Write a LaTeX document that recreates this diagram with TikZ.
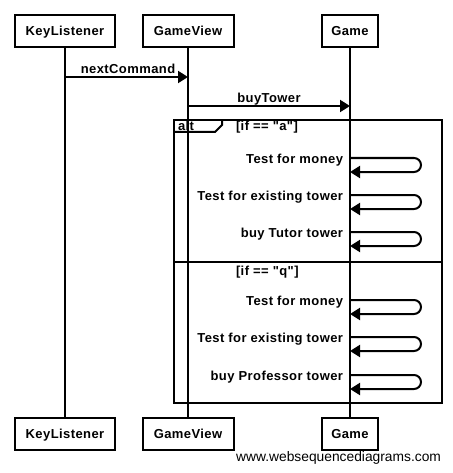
\documentclass[tikz,border=0pt]{standalone}
\usepackage{fontspec}
\newfontfamily\arialf{Liberation Sans}
\newfontfamily\arialbf{Liberation Sans Bold}[LetterSpace=3.2]
\usetikzlibrary{arrows.meta}
\begin{document}
\begin{tikzpicture}[x=1pt,y=-1pt,line width=2pt,
  actor/.style={draw,fill=white,font=\arialbf\fontsize{13}{15}\selectfont,minimum height=32pt,inner sep=0pt,text height=9.2pt,text depth=0pt},
  lbl/.style={font=\arialbf\fontsize{13}{15}\selectfont,inner sep=0pt},
  msg/.style={-{Triangle[length=10pt,width=12pt]}},
  selfmsg/.style={msg,rounded corners=7pt}]
\useasboundingbox (0,0) rectangle (452,473);
% actors
\node[actor,minimum width=100pt] (klt) at (65,31) {KeyListener};
\node[actor,minimum width=91pt] (gvt) at (188,31) {GameView};
\node[actor,minimum width=56pt] (gt) at (350,31) {Game};
\node[actor,minimum width=100pt] (klb) at (65,434) {KeyListener};
\node[actor,minimum width=91pt] (gvb) at (188,434) {GameView};
\node[actor,minimum width=56pt] (gb) at (350,434) {Game};
% lifelines
\draw (klt.south) -- (klb.north);
\draw (gvt.south) -- (gvb.north);
\draw (gt.south) -- (gb.north);
% rows
\foreach \n/\y in {r1/77,r2/106,a1/158,a2/195,a3/232,q1/300,q2/337,q3/375}
  \coordinate (\n) at (0,\y);
% messages
\draw[msg] (klt |- r1) -- (gvt |- r1);
\node[lbl,anchor=base] (l1) at (128,74) {nextCommand};
\draw[msg] (gvt |- r2) -- (gt |- r2);
\node[lbl,anchor=base] (l2) at (269,103) {buyTower};
% alt frame
\draw (174,120) rectangle (442,403);
\draw (174,132) -- (215,132) -- (222,125) -- (222,120);
\draw (174,262) -- (442,262);
\node[lbl,anchor=base west] (alt) at (177,130.5) {alt};
\node[lbl,anchor=base west] (ca) at (235,130.5) {[if == "a"]};
\node[lbl,anchor=base west] (cq) at (235,275.5) {[if == "q"]};
% self messages
\foreach \n/\t in {a1/Test for money,a2/Test for existing tower,a3/buy Tutor tower,q1/Test for money,q2/Test for existing tower,q3/buy Professor tower}{
  \draw[selfmsg] (gt |- \n) -- ++(71,0) -- ++(0,14) -- ([yshift=-14pt]gt |- \n);
  \node[lbl,anchor=base east] at ([xshift=-6pt,yshift=-5.5pt]gt |- \n) {\t};
}
\node[font=\arialf\fontsize{13.8}{15}\selectfont,anchor=base east,inner sep=0pt] (wm) at (442,461.5) {www.websequencediagrams.com};
\end{tikzpicture}
\end{document}
